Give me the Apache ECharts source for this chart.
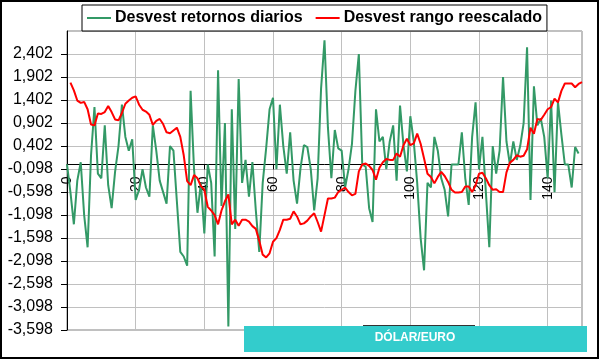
<!DOCTYPE html>
<html>
<head>
<meta charset="utf-8">
<script src="https://cdn.jsdelivr.net/npm/echarts@6/dist/echarts.min.js"></script>
<style>html,body{margin:0;padding:0;background:#fff}#c{width:600px;height:360px}</style>
</head>
<body>
<div id="c"></div>
<script>
// Series names
const seriesNames = ['Desvest retornos diarios', 'Desvest rango reescalado'];
// Green series: index 0..149
const greenStart = 0;
const greenValues = [
  0.0, -0.6, -1.3, -0.35, 0.05, -1.1, -1.8, 0.2, 1.25, -0.2,
  -0.3, 0.85, -0.45, -0.95, -0.16, 0.4, 1.3, 0.6, 0.3, 0.55,
  -0.77, -0.55, -0.1, -0.5, -0.7, 0.85, 0.3, -0.35, -0.6, -0.85,
  0.4, 0.3, -0.8, -1.9, -2.0, -2.2, 1.6, -0.1, -1.05, -0.4,
  -1.5, 0.0, -0.4, -2.0, 2.05, -0.9, 0.9, -3.52, 1.2, -1.4,
  1.86, -0.4, 0.1, -0.7, 0.05, -1.0, -1.9, -0.4, 0.35, 1.2,
  1.45, -0.1, 1.3, 0.4, -0.2, 0.7, -0.35, -0.85, -0.09, 0.42,
  0.38, -0.1, -1.0, -0.3, 1.65, 2.7, 0.8, -0.3, 0.75, 0.35,
  0.3, -0.5, -0.1, 0.45, 1.6, 2.4, 0.0, -0.05, -0.95, -1.25,
  1.2, 0.5, 0.6, -0.1, 0.5, 0.85, -0.35, 1.28, 0.42, -0.15,
  1.05, 0.5, -0.4, -1.6, -2.3, -0.4, -0.5, 0.6, 0.3, -0.3,
  -0.55, -1.13, 0.0, 0.0, 0.0, 0.7, -0.3, -0.88, 0.6, 1.35,
  -0.1, 0.6, -0.6, -1.8, 0.4, -0.2, 0.3, 1.9, 0.5, 0.0,
  0.5, 0.1, 0.4, 0.9, 2.55, -0.77, 1.7, 0.85, 1.0, 0.6,
  -0.3, 1.39, -0.6, 1.36, 0.65, 0.0, 0.0, -0.5, 0.38, 0.24
];
// Red series: index 1..150
const redStart = 1;
const redValues = [
  1.78, 1.61, 1.39, 1.34, 1.36, 1.2, 0.87, 0.85, 1.11, 1.1,
  1.14, 1.27, 1.14, 0.98, 0.96, 1.12, 1.32, 1.39, 1.45, 1.48,
  1.3, 1.19, 1.15, 1.08, 0.86, 0.95, 0.99, 0.88, 0.7, 0.68,
  0.74, 0.8, 0.6, 0.2, -0.36, -0.45, -0.23, -0.3, -0.47, -0.55,
  -0.92, -1.0, -1.1, -1.3, -1.0, -0.8, -0.65, -1.3, -1.2, -1.33,
  -1.2, -1.2, -1.24, -1.34, -1.4, -1.66, -1.96, -2.02, -1.93, -1.68,
  -1.6, -1.42, -1.2, -1.2, -1.18, -1.02, -1.13, -1.3, -1.28, -1.22,
  -1.13, -1.06, -1.25, -1.46, -1.1, -0.74, -0.74, -0.72, -0.6, -0.55,
  -0.5, -0.6, -0.67, -0.64, -0.15, 0.0, 0.02, -0.03, -0.12, -0.33,
  -0.07, 0.05, 0.12, 0.1, 0.1, 0.24, 0.17, 0.42, 0.56, 0.42,
  0.46, 0.67, 0.45, 0.13, -0.2, -0.27, -0.41, -0.27, -0.16, -0.25,
  -0.38, -0.55, -0.61, -0.61, -0.6, -0.48, -0.48, -0.6, -0.45, -0.2,
  -0.18, -0.3, -0.45, -0.55, -0.54, -0.6, -0.6, -0.17, 0.04, 0.1,
  0.2, 0.17, 0.19, 0.33, 0.8, 0.67, 0.99, 0.97, 1.08, 1.2,
  1.25, 1.43, 1.35, 1.6, 1.76, 1.76, 1.76, 1.68, 1.75, 1.79
];
// Axis ticks
const xTicks = [0, 20, 40, 60, 80, 100, 120, 140];
const xRange = [0, 150];
const yTicks = [-3.598, -3.098, -2.598, -2.098, -1.598, -1.098, -0.598, -0.098, 0.402, 0.902, 1.402, 1.902, 2.402, 2.902];
const boxTitle = 'DÓLAR/EURO';

const greenData = greenValues.map((v, i) => [greenStart + i, v]);
const redData = redValues.map((v, i) => [redStart + i, v]);

const chart = echarts.init(document.getElementById('c'), null, {renderer: 'canvas'});
const FONT = '"Liberation Sans", Arial, sans-serif';
const GRID = {left: 67, right: 18, top: 31, bottom: 30};
chart.setOption({
  animation: false,
  backgroundColor: '#ffffff',
  textStyle: {fontFamily: FONT},
  grid: Object.assign({show: true, borderColor: '#808080', borderWidth: 1, containLabel: false, outerBoundsMode: 'none'}, GRID),
  legend: {
    left: 82, top: 5,
    padding: [5, 5, 5, 5],
    itemGap: 13,
    itemWidth: 24, itemHeight: 2,
    icon: 'rect',
    borderColor: '#000', borderWidth: 1,
    backgroundColor: '#fff',
    textStyle: {fontSize: 16, fontWeight: 'bold', color: '#000', fontFamily: FONT, padding: [0, 0, 0, -1]},
    data: seriesNames
  },
  xAxis: {
    type: 'value',
    min: xRange[0], max: xRange[1], interval: xTicks[1] - xTicks[0],
    axisLine: {onZero: false, lineStyle: {color: '#000', width: 1}},
    axisTick: {show: true, length: 5, lineStyle: {color: '#000'}},
    axisLabel: {
      rotate: 90, margin: 12, fontSize: 14, color: '#000', fontFamily: FONT,
      showMaxLabel: false, hideOverlap: false,
      formatter: v => xTicks.includes(v) ? String(v) : ''
    },
    splitLine: {show: true, lineStyle: {color: '#c0c0c0', width: 1}}
  },
  yAxis: {
    type: 'value',
    min: yTicks[0], max: yTicks[yTicks.length - 1], interval: 0.5,
    axisLine: {show: true, lineStyle: {color: '#000', width: 1}},
    axisTick: {show: true, length: 6, lineStyle: {color: '#000'}},
    axisLabel: {
      margin: 14, fontSize: 16, color: '#000', fontFamily: FONT,
      showMaxLabel: false,
      formatter: v => v.toFixed(3).replace('.', ',')
    },
    splitLine: {show: true, lineStyle: {color: '#c0c0c0', width: 1}}
  },
  series: [
    {
      name: seriesNames[0], type: 'line', data: greenData,
      symbol: 'none', lineStyle: {color: '#339966', width: 2}, itemStyle: {color: '#339966'}, z: 2
    },
    {
      name: seriesNames[1], type: 'line', data: redData,
      symbol: 'none', lineStyle: {color: '#ff0000', width: 2}, itemStyle: {color: '#ff0000'}, z: 3
    }
  ],
  graphic: [
    {type: 'rect', shape: {x: 1, y: 1, width: 597, height: 357}, style: {fill: null, stroke: '#000', lineWidth: 2}, silent: true, z: 100},
    {type: 'line', shape: {x1: 363, y1: 325.5, x2: 475, y2: 325.5}, style: {stroke: '#333', lineWidth: 1}, z: 99},
    {type: 'rect', shape: {x: 244, y: 326, width: 343, height: 26}, style: {fill: '#33cccc'}, z: 100},
    {type: 'text', x: 415, y: 338, style: {text: boxTitle, fill: '#fff', font: 'bold 12px "Liberation Sans Narrow", "Liberation Sans", Arial', align: 'center', verticalAlign: 'middle'}, z: 101}
  ]
});
// Move the x axis line (with its ticks and labels) up to y = 0, as in the reference.
const zeroY = chart.convertToPixel({yAxisIndex: 0}, 0);
const bottomY = 360 - GRID.bottom;
chart.setOption({xAxis: {offset: zeroY - bottomY}});
</script>
</body>
</html>
